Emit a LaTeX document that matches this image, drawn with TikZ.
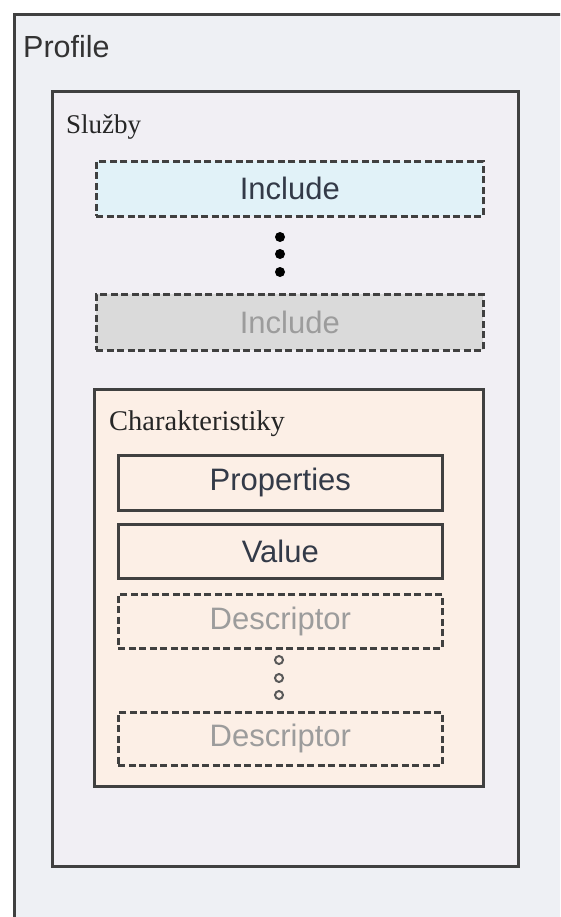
\documentclass[tikz,border=0pt]{standalone}
\usepackage{fontspec}
\setmainfont{Liberation Serif}
\setsansfont{Liberation Sans}
\begin{document}
\begin{tikzpicture}[x=1pt,y=-1pt,
  edge/.style={draw=black!75,line width=2.7pt},
  box/.style={edge,rectangle,inner sep=0pt,anchor=north west,font=\sffamily\fontsize{31}{32}\selectfont},
  dbox/.style={box,dash pattern=on 7pt off 3.5pt},
  title/.style={inner sep=0pt,anchor=base west},
  dot/.style={circle,fill=black,inner sep=0pt,minimum size=10pt},
  odot/.style={circle,draw=black!65,line width=2pt,inner sep=0pt,minimum size=8pt}]
\definecolor{outerbg}{HTML}{EEF0F4}
\definecolor{sluzbg}{HTML}{F1EFF4}
\definecolor{incbg}{HTML}{E1F2F8}
\definecolor{inc2bg}{HTML}{DADADA}
\definecolor{charbg}{HTML}{FCEFE6}
\definecolor{txtdark}{HTML}{333A48}
\definecolor{txtgray}{HTML}{9C9C9C}
\useasboundingbox (0,0) rectangle (560,917);
\fill[white] (0,0) rectangle (560,917);
\clip (0,0) rectangle (560,917);
\node[box,fill=outerbg,minimum width=600pt,minimum height=950pt] (profile) at (13,13) {};
\node[title,font=\sffamily\fontsize{30.5}{32}\selectfont,text=black!80] (profilet) at (23,58) {Profile};
\node[box,fill=sluzbg,minimum width=466pt,minimum height=775pt] (sluzby) at (51,90) {};
\node[title,font=\fontsize{27}{28}\selectfont,text=black!85] (sluzbyt) at (66,134) {Služby};
\node[dbox,fill=incbg,text=txtdark,minimum width=387pt,minimum height=55pt] (inc1) at (95,160) {Include};
\node[dot] (d1) at (280,237) {};
\node[dot] (d2) at (280,254) {};
\node[dot] (d3) at (280,272) {};
\node[dbox,fill=inc2bg,text=txtgray,minimum width=387pt,minimum height=56pt] (inc2) at (95,293) {Include};
\node[box,fill=charbg,minimum width=389pt,minimum height=397pt] (char) at (93,388) {};
\node[title,font=\fontsize{28.5}{30}\selectfont,text=black!85] (chart) at (109,430) {Charakteristiky};
\node[box,fill=charbg,text=txtdark,minimum width=324pt,minimum height=55pt] (prop) at (117,454) {Properties};
\node[box,fill=charbg,text=txtdark,minimum width=324pt,minimum height=54pt] (val) at (117,523) {Value};
\node[dbox,fill=charbg,text=txtgray,minimum width=324pt,minimum height=54pt] (desc1) at (117,593) {Descriptor};
\node[odot] (o1) at (279,660) {};
\node[odot] (o2) at (279,678) {};
\node[odot] (o3) at (279,695) {};
\node[dbox,fill=charbg,text=txtgray,minimum width=324pt,minimum height=53pt] (desc2) at (117,711) {Descriptor};
\end{tikzpicture}
\end{document}
